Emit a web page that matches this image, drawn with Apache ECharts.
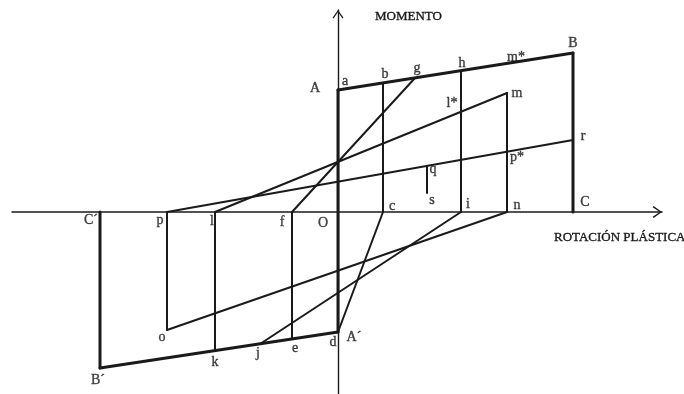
<!DOCTYPE html>
<html><head><meta charset="utf-8">
<script src="https://cdn.jsdelivr.net/npm/echarts@6/dist/echarts.min.js"></script>
<style>html,body{margin:0;padding:0;background:#fff}#c{width:684px;height:394px}</style>
</head><body><div id="c"></div>
<script>
// Named points of the moment / plastic-rotation hysteresis diagram
const pointNames = ['O','A','B','C','Ap','Bp','Cp','b','c','g','h','i','m','n','r','p','o','l','k','f','e','j','q','s','mStar','lStar','pStar'];
const rotation   = [0,  0, 235,235, 0, -238,-238, 45, 45, 77,123,123,169,169,235,-171,-171,-123,-123,-46,-46,-78, 89, 89,178,123,169];
const moment     = [0, 122,159, 0,-120,-156, 0, 129,  0,134,141,  0,119,  0, 72,  0,-118,  0,-139,  0,-127,-132, 46, 19,150,100, 60];

// Envelope (thick) and inner branches (thin), as pairs of point names
const envelopeSegments = [['A','B'],['B','C'],['Ap','Bp'],['Bp','Cp'],['A','Ap']];
const branchSegments = [['b','c'],['c','Ap'],['e','f'],['f','g'],['h','i'],['i','j'],['k','l'],['l','m'],['m','n'],['n','o'],['o','p'],['p','r'],['q','s']];

// Point labels: text and the point they belong to
const labelTexts  = ['A','a','b','g','h','m*','B','l*','m','r','p*','q','s','c','i','n','C','O','C\u00b4','p','l','f','o','A\u00b4','d','e','j','k','B\u00b4'];
const labelPoints = ['A','A','b','g','h','mStar','B','lStar','m','r','pStar','q','s','c','i','n','C','O','Cp','p','l','f','o','Ap','Ap','e','j','k','Bp'];

// Axis titles
const yAxisTitle = 'MOMENTO';
const xAxisTitle = 'ROTACIÓN PLÁSTICA';

// ---- layout / style (not data) ----
const labelOffsets = {
  'A':[-23,-2],'a':[7,-9],'b':[2,-9],'g':[2,-10],'h':[1,-8],'m*':[0,-5],'B':[0,-10],'l*':[-9,-9],
  'm':[10,0],'r':[10,-4],'p*':[10,5],'q':[6,3],'s':[5,7],'c':[9,-6],'i':[7,-8],'n':[10,-7],
  'C':[12,-10],'O':[-15,11],'C\u00b4':[-9,8],'p':[-7,8],'l':[-3,9],'f':[-10,10],'o':[-5,7],
  'A\u00b4':[16,5],'d':[-5,10],'e':[3,9],'j':[-2,9],'k':[0,11],'B\u00b4':[-2,12]
};
const ink = '#1a1a1a';
const serif = '"Liberation Serif", "DejaVu Serif", serif';

const P = {};
pointNames.forEach((n, idx) => { P[n] = [rotation[idx], moment[idx]]; });

const series = [];
function seg(pair, width) {
  series.push({
    type: 'line', data: [P[pair[0]], P[pair[1]]], symbol: 'none', silent: true,
    animation: false, clip: false, z: 3,
    lineStyle: { color: ink, width: width, cap: 'round' }
  });
}
envelopeSegments.forEach(s => seg(s, 3));
branchSegments.forEach(s => seg(s, 2));

series.push({
  type: 'scatter', symbolSize: 0, silent: true, animation: false, clip: false, z: 5,
  data: labelTexts.map((t, i) => ({
    value: P[labelPoints[i]],
    label: {
      show: true, position: 'inside', formatter: t, offset: labelOffsets[t],
      color: ink, fontFamily: serif, fontSize: 14,
      textBorderColor: ink, textBorderWidth: 0.4
    }
  }))
});

const chevron = 'path://M10,0 L20,14 L18,15.6 L10,3.6 L2,15.6 L0,14 Z';
const axisCommon = {
  type: 'value', splitLine: { show: false }, axisTick: { show: false }, axisLabel: { show: false }
};

const chart = echarts.init(document.getElementById('c'), null, { renderer: 'canvas' });
chart.setOption({
  backgroundColor: '#ffffff',
  animation: false,
  grid: { left: 12, right: 22, top: 10, bottom: 0, containLabel: false },
  xAxis: Object.assign({}, axisCommon, {
    min: -326, max: 324,
    axisLine: { show: true, onZero: true, lineStyle: { color: ink, width: 1.5 },
      symbol: ['none', chevron], symbolSize: [12, 9.4], symbolOffset: [0, -4.7] }
  }),
  yAxis: Object.assign({}, axisCommon, {
    min: -182, max: 202,
    axisLine: { show: true, onZero: true, lineStyle: { color: ink, width: 1.4 },
      symbol: ['none', chevron], symbolSize: [11, 8.6], symbolOffset: [0, -4.3] }
  }),
  graphic: [
    { type: 'text', x: 375, y: 17, silent: true,
      style: { text: yAxisTitle, font: '13px ' + serif, fill: ink, stroke: ink, lineWidth: 0.35,
        textAlign: 'left', textVerticalAlign: 'middle' } },
    { type: 'text', x: 554, y: 238, silent: true,
      style: { text: xAxisTitle, font: '13px ' + serif, fill: ink, stroke: ink, lineWidth: 0.35,
        textAlign: 'left', textVerticalAlign: 'middle' } }
  ],
  series: series
});
</script>
</body></html>
